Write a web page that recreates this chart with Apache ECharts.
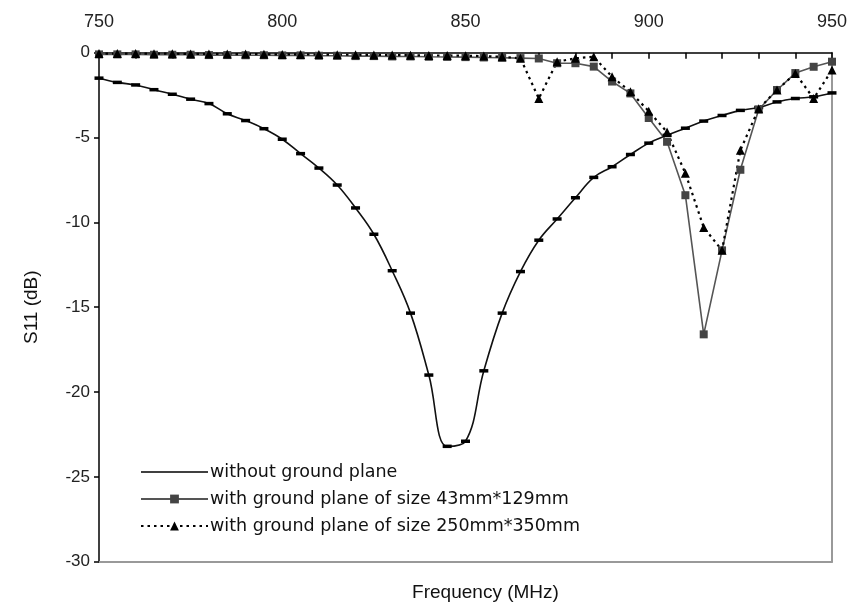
<!DOCTYPE html>
<html>
<head>
<meta charset="utf-8">
<script src="https://cdn.jsdelivr.net/npm/echarts@6/dist/echarts.min.js"></script>
<style>
html,body{margin:0;padding:0;background:#fff;}
#chart{width:850px;height:614px;}
</style>
</head>
<body>
<div id="chart"></div>
<script>
// Frequency points (MHz)
const freq = [750,755,760,765,770,775,780,785,790,795,800,805,810,815,820,825,830,835,840,845,850,855,860,865,870,875,880,885,890,895,900,905,910,915,920,925,930,935,940,945,950];
// S11 (dB) without ground plane
const sNoGround = [-1.5,-1.75,-1.9,-2.18,-2.45,-2.74,-3.0,-3.6,-4.0,-4.48,-5.1,-5.95,-6.8,-7.8,-9.15,-10.7,-12.85,-15.35,-19.0,-23.2,-22.9,-18.75,-15.35,-12.9,-11.05,-9.8,-8.55,-7.35,-6.72,-6.0,-5.33,-4.87,-4.45,-4.03,-3.7,-3.4,-3.23,-2.9,-2.7,-2.6,-2.37];
// S11 (dB) with ground plane 43mm*129mm
const sGround43 = [-0.1,-0.1,-0.1,-0.12,-0.12,-0.12,-0.14,-0.14,-0.15,-0.15,-0.16,-0.16,-0.18,-0.18,-0.2,-0.2,-0.22,-0.22,-0.24,-0.25,-0.26,-0.28,-0.3,-0.32,-0.34,-0.62,-0.62,-0.82,-1.7,-2.4,-3.85,-5.25,-8.4,-16.6,-11.65,-6.9,-3.35,-2.2,-1.2,-0.83,-0.53];
// S11 (dB) with ground plane 250mm*350mm
const sGround250 = [-0.05,-0.05,-0.05,-0.06,-0.06,-0.07,-0.07,-0.08,-0.08,-0.09,-0.1,-0.1,-0.11,-0.12,-0.12,-0.13,-0.14,-0.15,-0.16,-0.17,-0.18,-0.2,-0.24,-0.33,-2.7,-0.53,-0.33,-0.24,-1.42,-2.3,-3.45,-4.68,-7.1,-10.3,-11.65,-5.75,-3.3,-2.2,-1.22,-2.7,-1.02];
// Axis ticks
const xTicks = {min: 750, max: 950, step: 50};
const yTicks = {min: -30, max: 0, step: 5};
const seriesNames = ['without ground plane','with ground plane of size 43mm*129mm','with ground plane of size 250mm*350mm'];

const pair = (ys) => freq.map((f, i) => [f, ys[i]]);
const chart = echarts.init(document.getElementById('chart'), null, {renderer: 'canvas'});
const font = 'Liberation Sans, Arial, sans-serif';

chart.setOption({
  animation: false,
  backgroundColor: '#fff',
  grid: {left: 99, right: 14.5, top: 52.7, bottom: 52.3, containLabel: false},
  legend: {
    orient: 'vertical',
    left: 140,
    top: 463,
    padding: 0,
    itemWidth: 67,
    itemHeight: 11,
    itemGap: 9,
    selectedMode: false,
    textStyle: {fontFamily: 'DejaVu Sans, sans-serif', fontSize: 17.5, color: '#111', padding: [0,0,0,-3], lineHeight: 17.5},
    data: [
      {name: seriesNames[0], icon: 'path://M0,0H67V1.6H0Z'},
      {name: seriesNames[1]},
      {name: seriesNames[2]}
    ]
  },
  xAxis: [
    {
      type: 'value', position: 'top', min: xTicks.min, max: xTicks.max, interval: xTicks.step,
      axisLine: {show: true, onZero: false, lineStyle: {color: '#000', width: 1.5}},
      axisTick: {show: true, inside: true, length: 6, lineStyle: {color: '#000', width: 1.5}},
      minorTick: {show: true, splitNumber: 5, length: 6, lineStyle: {color: '#000', width: 1.5}},
      axisLabel: {fontFamily: font, fontSize: 18, color: '#222', margin: 22},
      splitLine: {show: false}
    },
    {
      type: 'value', position: 'bottom', min: xTicks.min, max: xTicks.max, interval: xTicks.step,
      axisLine: {show: true, onZero: false, lineStyle: {color: '#999', width: 2}},
      axisTick: {show: false}, axisLabel: {show: false}, splitLine: {show: false},
      name: 'Frequency (MHz)', nameLocation: 'middle', nameGap: 22,
      nameTextStyle: {fontFamily: font, fontSize: 19, color: '#111', padding: [0,0,0,40]}
    }
  ],
  yAxis: [
    {
      type: 'value', position: 'left', min: yTicks.min, max: yTicks.max, interval: yTicks.step,
      axisLine: {show: true, onZero: false, lineStyle: {color: '#000', width: 1.5}},
      axisTick: {show: true, inside: false, length: 5, lineStyle: {color: '#000', width: 1.5}},
      axisLabel: {fontFamily: font, fontSize: 17, color: '#222', margin: 9},
      splitLine: {show: false},
      name: 'S11 (dB)', nameLocation: 'middle', nameGap: 58,
      nameTextStyle: {fontFamily: font, fontSize: 19, color: '#111'}
    },
    {
      type: 'value', position: 'right', min: yTicks.min, max: yTicks.max, interval: yTicks.step,
      axisLine: {show: true, onZero: false, lineStyle: {color: '#999', width: 2}},
      axisTick: {show: false}, axisLabel: {show: false}, splitLine: {show: false}
    }
  ],
  series: [
    {
      name: seriesNames[0], type: 'line', xAxisIndex: 0, yAxisIndex: 0,
      data: pair(sNoGround), smooth: 0.4,
      symbol: 'rect', symbolSize: [9, 3.5],
      lineStyle: {color: '#111', width: 1.6},
      itemStyle: {color: '#000'}
    },
    {
      name: seriesNames[1], type: 'line', xAxisIndex: 0, yAxisIndex: 0,
      data: pair(sGround43),
      symbol: 'rect', symbolSize: 8,
      lineStyle: {color: '#555', width: 1.6},
      itemStyle: {color: '#444'}
    },
    {
      name: seriesNames[2], type: 'line', xAxisIndex: 0, yAxisIndex: 0,
      data: pair(sGround250),
      symbol: 'triangle', symbolSize: 9,
      lineStyle: {color: '#000', width: 2.2, type: [2.5, 4]},
      itemStyle: {color: '#000'}
    }
  ]
});
</script>
</body>
</html>
